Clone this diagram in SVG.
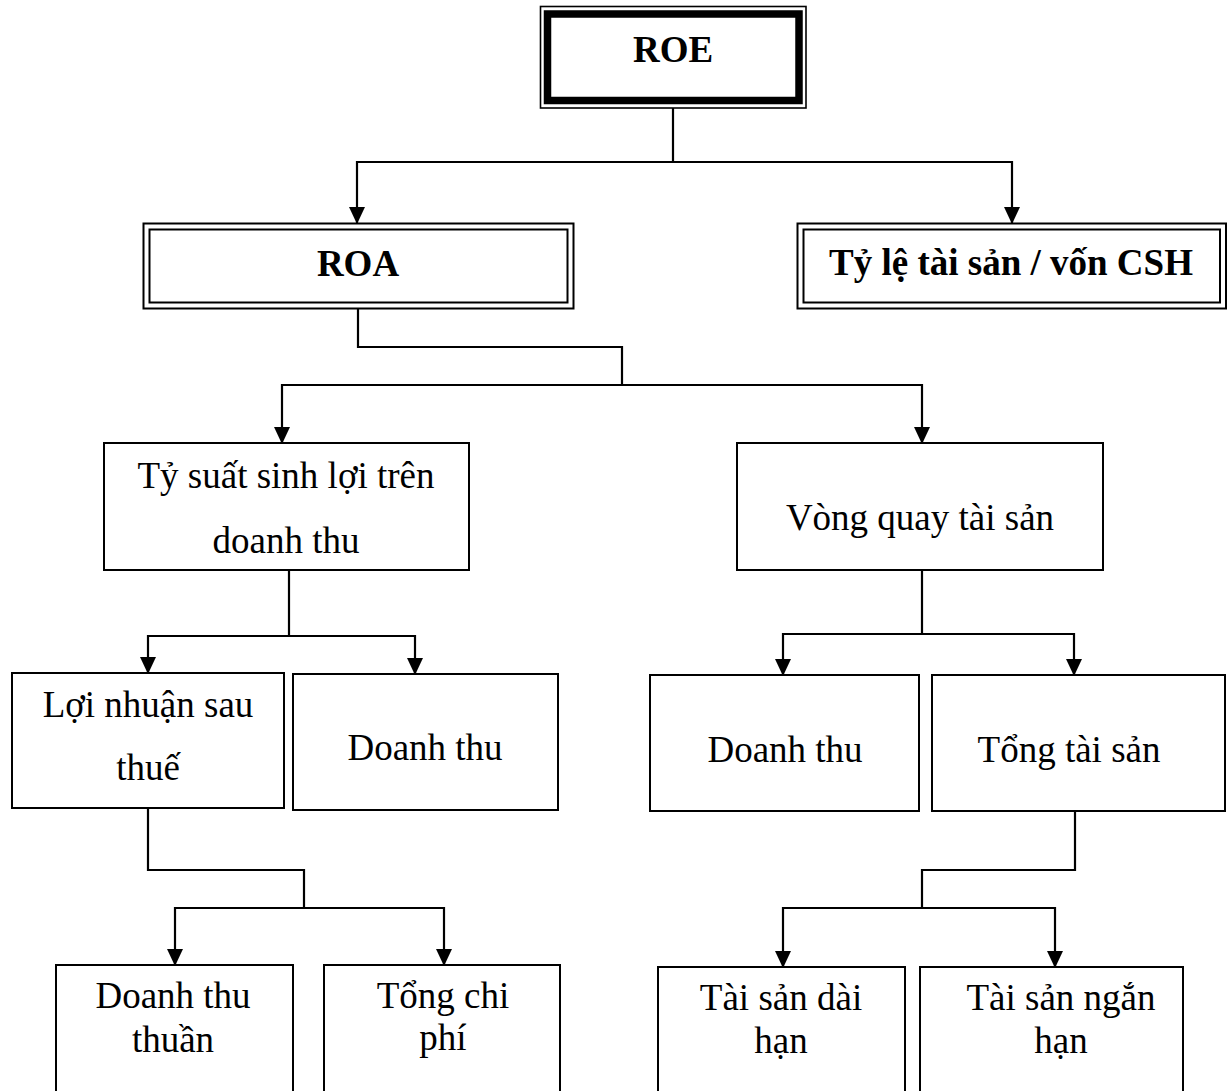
<svg xmlns="http://www.w3.org/2000/svg" width="1228" height="1091" viewBox="0 0 1228 1091">
<style>
.box{fill:#fff;stroke:#000;stroke-width:2}
.thin{fill:none;stroke:#000;stroke-width:1.6}
.thick{fill:none;stroke:#000;stroke-width:7.5}
.dbl{fill:none;stroke:#000;stroke-width:2}
.t{font-family:"Liberation Serif","Times New Roman",serif;font-size:37px;fill:#000;text-anchor:middle}
.b{font-weight:bold}
.c{fill:none;stroke:#000;stroke-width:2.2}
</style>
<defs>
<marker id="ah" markerUnits="userSpaceOnUse" markerWidth="17" markerHeight="16" viewBox="0 0 17 16" refX="16" refY="8" orient="auto">
<path d="M0,0 L17,8 L0,16 Z" fill="#000"/>
</marker>
</defs>
<rect width="1228" height="1091" fill="#fff"/>
<g id="connectors">
<path class="c" d="M673,108 V162 M357,162 H1012"/>
<path class="c" d="M357,161 V223" marker-end="url(#ah)"/>
<path class="c" d="M1012,161 V223" marker-end="url(#ah)"/>
<path class="c" d="M358,309 V347 H622 V385 M282,385 H922"/>
<path class="c" d="M282,384 V443" marker-end="url(#ah)"/>
<path class="c" d="M922,384 V443" marker-end="url(#ah)"/>
<path class="c" d="M289,570 V636 M148,636 H415"/>
<path class="c" d="M148,635 V673" marker-end="url(#ah)"/>
<path class="c" d="M415,635 V674" marker-end="url(#ah)"/>
<path class="c" d="M922,570 V634 M783,634 H1074"/>
<path class="c" d="M783,633 V675" marker-end="url(#ah)"/>
<path class="c" d="M1074,633 V675" marker-end="url(#ah)"/>
<path class="c" d="M148,808 V870 H304 V908 M175,908 H444"/>
<path class="c" d="M175,907 V965" marker-end="url(#ah)"/>
<path class="c" d="M444,907 V965" marker-end="url(#ah)"/>
<path class="c" d="M1075,811 V870 H922 V908 M783,908 H1055"/>
<path class="c" d="M783,907 V967" marker-end="url(#ah)"/>
<path class="c" d="M1055,907 V967" marker-end="url(#ah)"/>
</g>
<g id="roe">
<rect x="540.5" y="6.5" width="265.5" height="101.5" fill="#fff" class="thin"/>
<rect x="547.5" y="14" width="251.5" height="86.5" class="thick"/>
<text class="t b" x="673" y="62">ROE</text>
</g>
<g id="roa">
<rect x="143.5" y="223.5" width="430" height="85" fill="#fff" class="dbl"/>
<rect x="149.5" y="229.5" width="418" height="73" class="dbl"/>
<text class="t b" x="358" y="276">ROA</text>
</g>
<g id="ty-le">
<rect x="797.5" y="223.5" width="428.5" height="85" fill="#fff" class="dbl"/>
<rect x="803.5" y="229.5" width="416.5" height="73" class="dbl"/>
<text class="t b" x="1011" y="275">Tỷ lệ tài sản / vốn CSH</text>
</g>
<g id="ty-suat">
<rect class="box" x="104" y="443" width="365" height="127"/>
<text class="t" x="286" y="488">Tỷ suất sinh lợi trên</text>
<text class="t" x="286" y="553">doanh thu</text>
</g>
<g id="vong-quay">
<rect class="box" x="737" y="443" width="366" height="127"/>
<text class="t" x="920" y="530">Vòng quay tài sản</text>
</g>
<g id="loi-nhuan">
<rect class="box" x="12" y="673" width="272" height="135"/>
<text class="t" x="148" y="717">Lợi nhuận sau</text>
<text class="t" x="148" y="780">thuế</text>
</g>
<g id="doanh-thu-1">
<rect class="box" x="293" y="674" width="265" height="136"/>
<text class="t" x="425" y="760">Doanh thu</text>
</g>
<g id="doanh-thu-2">
<rect class="box" x="650" y="675" width="269" height="136"/>
<text class="t" x="785" y="762">Doanh thu</text>
</g>
<g id="tong-tai-san">
<rect class="box" x="932" y="675" width="293" height="136"/>
<text class="t" x="1069" y="762">Tổng tài sản</text>
</g>
<g id="doanh-thu-thuan">
<rect class="box" x="56" y="965" width="237" height="140"/>
<text class="t" x="173" y="1008">Doanh thu</text>
<text class="t" x="173" y="1052">thuần</text>
</g>
<g id="tong-chi-phi">
<rect class="box" x="324" y="965" width="236" height="140"/>
<text class="t" x="443" y="1008">Tổng chi</text>
<text class="t" x="443" y="1050">phí</text>
</g>
<g id="ts-dai-han">
<rect class="box" x="658" y="967" width="247" height="140"/>
<text class="t" x="781" y="1010">Tài sản dài</text>
<text class="t" x="781" y="1053">hạn</text>
</g>
<g id="ts-ngan-han">
<rect class="box" x="920" y="967" width="263" height="140"/>
<text class="t" x="1061" y="1010">Tài sản ngắn</text>
<text class="t" x="1061" y="1053">hạn</text>
</g>
</svg>
